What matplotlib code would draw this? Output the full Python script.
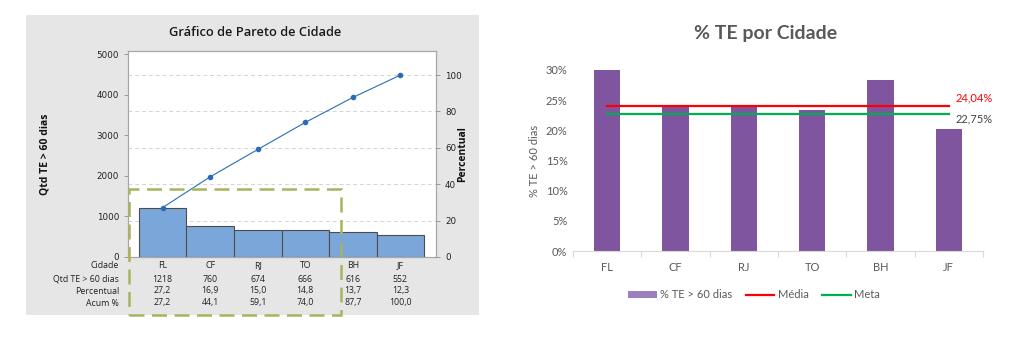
import matplotlib
matplotlib.use("Agg")
import matplotlib.pyplot as plt
import matplotlib.patches as patches
import matplotlib.transforms as transforms
from matplotlib.lines import Line2D

# ---------------------------------------------------------------
# Data
# ---------------------------------------------------------------
cidades = ['FL', 'CF', 'RJ', 'TO', 'BH', 'JF']
qtd_te = [1218, 760, 674, 666, 616, 552]
percentual = [27.2, 16.9, 15.0, 14.8, 13.7, 12.3]
acum_pct = [27.2, 44.1, 59.1, 74.0, 87.7, 100.0]

pct_te_60 = [30.0, 23.9, 23.8, 23.4, 28.3, 20.2]
media = 24.04
meta = 22.75


def br(v, nd=1):
    return f"{v:.{nd}f}".replace('.', ',')


W, H = 1028, 337
fig = plt.figure(figsize=(W / 100, H / 100), dpi=100)
fig.patch.set_facecolor('white')


def fx(px):
    return px / W


def fy(py):
    return (H - py) / H


#===============================================================
# LEFT PANEL - Pareto chart
#===============================================================
fig.patches.append(patches.Rectangle((fx(26), fy(315)), fx(479) - fx(26), fy(15) - fy(315),
                                     transform=fig.transFigure, facecolor='#e6e6e6',
                                     edgecolor='none', zorder=-10))

ax1 = fig.add_axes([fx(128), fy(257), fx(436) - fx(128), fy(51) - fy(257)])
ax1.set_facecolor('white')
total = sum(qtd_te)
ytop = 5080
x = list(range(len(cidades)))

ax1.bar(x, qtd_te, width=1.0, color='#7ba6da', edgecolor='#4d4d4d', linewidth=0.8, zorder=3)
ax1.set_xlim(-0.73, 5.75)
ax1.set_ylim(0, ytop)
ax1.set_yticks([0, 1000, 2000, 3000, 4000, 5000])
ax1.set_xticks([])
ax1.tick_params(axis='y', labelsize=6.3, colors='#222222', length=3, width=0.6)
for lab in ax1.get_yticklabels():
    lab.set_color('#222222')
ax1.tick_params(axis='y', color='#8c8c8c')
for sp in ax1.spines.values():
    sp.set_color('#a6a6a6')
    sp.set_linewidth(0.8)

ax1b = ax1.twinx()
ax1b.set_ylim(0, ytop / total * 100)
ax1b.set_yticks([0, 20, 40, 60, 80, 100])
ax1b.tick_params(axis='y', labelsize=6.3, labelcolor='#222222', color='#8c8c8c', length=3, width=0.6)
for sp in ax1b.spines.values():
    sp.set_color('#a6a6a6')
    sp.set_linewidth(0.8)

# dashed grid lines following the percent axis
for g in [20, 40, 60, 80, 100]:
    ax1.axhline(g * total / 100, color='#d4d4d4', linestyle=(0, (4, 3)), linewidth=0.7, zorder=1)

ax1b.plot(x, acum_pct, color='#2a6db5', linewidth=0.8, marker='o', markersize=3, zorder=5)

fig.text(fx(255), fy(33), 'Gráfico de Pareto de Cidade', ha='center', va='center',
         fontsize=9.3, fontweight='semibold', color='#1a1a1a', family='Open Sans')
fig.text(fx(45), fy(154), 'Qtd TE > 60 dias', ha='center', va='center', rotation=90,
         fontsize=7.5, fontweight='bold', color='#111111', family='Open Sans')
fig.text(fx(463), fy(154), 'Percentual', ha='center', va='center', rotation=90,
         fontsize=7.5, fontweight='bold', color='#111111', family='Open Sans')

# table below the chart
trans = transforms.blended_transform_factory(ax1.transData, fig.transFigure)
rows = [
    ('Cidade', cidades, 266),
    ('Qtd TE > 60 dias', [str(v) for v in qtd_te], 279),
    ('Percentual', [br(v) for v in percentual], 291),
    ('Acum %', [br(v) for v in acum_pct], 303),
]
for label, vals, py in rows:
    fig.text(fx(119), fy(py), label, ha='right', va='center', fontsize=6.3,
             color='#222222', family='Open Sans')
    for i, v in enumerate(vals):
        fig.text(x[i], fy(py), v, ha='center', va='center', fontsize=6.3,
                 color='#222222', family='Open Sans', transform=trans)

# highlight box
fig.patches.append(patches.Rectangle((fx(129), fy(315)), fx(341) - fx(129), fy(189) - fy(315),
                                     transform=fig.transFigure, facecolor='none',
                                     edgecolor='#a9b35e', linewidth=1.8,
                                     linestyle=(0, (6, 3)), zorder=20))

#===============================================================
# RIGHT PANEL - % TE por Cidade
#===============================================================
gray = '#595959'
ax2 = fig.add_axes([fx(573), fy(251), fx(983) - fx(573), fy(70) - fy(251)])
ax2.bar(x, pct_te_60, width=0.39, color='#7f55a0', zorder=2)
ax2.plot([0, 5], [media, media], color='#ff0000', linewidth=1.6, zorder=3)
ax2.plot([0, 5], [meta, meta], color='#00b050', linewidth=1.6, zorder=3)
ax2.set_xlim(-0.5, 5.5)
ax2.set_ylim(0, 30)
ax2.set_yticks([0, 5, 10, 15, 20, 25, 30])
ax2.set_yticklabels([f'{v}%' for v in [0, 5, 10, 15, 20, 25, 30]])
ax2.set_xticks(x)
ax2.set_xticklabels(cidades)
ax2.set_xticks([i - 0.5 for i in range(len(cidades) + 1)], minor=True)
ax2.tick_params(axis='x', which='major', length=0, pad=8)
ax2.tick_params(axis='x', which='minor', length=4, color='#d9d9d9', width=0.8)
ax2.tick_params(axis='y', length=0, pad=4)
ax2.tick_params(labelsize=8, labelcolor=gray)
for lab in ax2.get_xticklabels() + ax2.get_yticklabels():
    lab.set_family('Lato')
for side in ['left', 'right', 'top']:
    ax2.spines[side].set_visible(False)
ax2.spines['bottom'].set_color('#d9d9d9')
ax2.spines['bottom'].set_linewidth(0.8)
ax2.set_ylabel('% TE > 60 dias', fontsize=8, color=gray, family='Lato', labelpad=4)

ax2.text(5.1, media + 1.4, br(media, 2) + '%', color='#ff0000', fontsize=8,
         family='Lato', ha='left', va='center')
ax2.text(5.1, meta - 0.9, br(meta, 2) + '%', color='#404040', fontsize=8,
         family='Lato', ha='left', va='center')

fig.text(fx(766), fy(33), '% TE por Cidade', ha='center', va='center', fontsize=14,
         fontweight='bold', color=gray, family='Lato')

handles = [patches.Patch(facecolor='#9e7fbd', edgecolor='none'),
           Line2D([0], [0], color='#ff0000', linewidth=1.6),
           Line2D([0], [0], color='#00b050', linewidth=1.6)]
leg = fig.legend(handles, ['% TE > 60 dias', 'Média', 'Meta'], loc='center',
                 bbox_to_anchor=(fx(754), fy(295)), ncol=3, frameon=False,
                 fontsize=8, handlelength=2.6, handleheight=0.6, handletextpad=0.3,
                 columnspacing=1.2, prop={'family': 'Lato', 'size': 8})
for t in leg.get_texts():
    t.set_color(gray)

fig.savefig('out.png', dpi=100)
